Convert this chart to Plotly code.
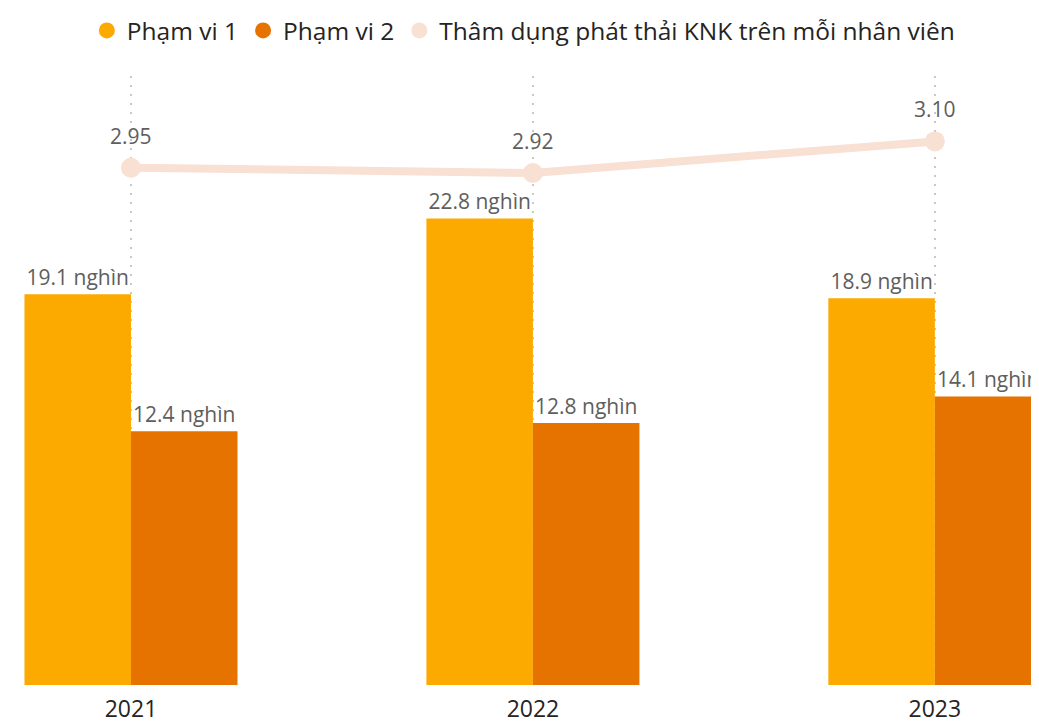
import plotly.graph_objects as go

years = ["2021", "2022", "2023"]
scope1 = [19.1, 22.8, 18.9]   # nghìn
scope2 = [12.4, 12.8, 14.1]   # nghìn
intensity = [2.95, 2.92, 3.10]

c_scope1 = "#FDAA00"
c_scope2 = "#E67300"
c_line = "#F8E0D3"
font_family = "Open Sans"
label_grey = "#605E5C"

fig = go.Figure()

fig.add_trace(go.Bar(
    x=years, y=scope1, name="Phạm vi 1", marker_color=c_scope1, marker_line_width=0,
    texttemplate="%{y:.1f} nghìn", textposition="outside", cliponaxis=False,
    textfont=dict(size=21, color=label_grey, family=font_family),
    showlegend=False))
fig.add_trace(go.Bar(
    x=years, y=scope2, name="Phạm vi 2", marker_color=c_scope2, marker_line_width=0,
    texttemplate="%{y:.1f} nghìn", textposition="outside", cliponaxis=False,
    textfont=dict(size=21, color=label_grey, family=font_family),
    showlegend=False))
fig.add_trace(go.Scatter(
    x=years, y=intensity, yaxis="y2", mode="lines+markers",
    line=dict(color=c_line, width=8), marker=dict(color=c_line, size=20),
    showlegend=False, cliponaxis=False))

# value labels above the line points (category index, since "2021" would be read as a number)
for i, v in enumerate(intensity):
    fig.add_annotation(x=i, y=v, xref="x", yref="y2", text=f"{v:.2f}", showarrow=False,
                       yshift=32, font=dict(size=21, color=label_grey, family=font_family))

# legend entries with round markers
for name, col in [("Phạm vi 1", c_scope1), ("Phạm vi 2", c_scope2),
                  ("Thâm dụng phát thải KNK trên mỗi nhân viên", c_line)]:
    fig.add_trace(go.Scatter(x=[None], y=[None], mode="markers", name=name,
                             marker=dict(color=col, size=17, symbol="circle")))

fig.update_layout(
    width=1039, height=716,
    margin=dict(l=0, r=0, t=67, b=36),
    plot_bgcolor="white", paper_bgcolor="white",
    barmode="group", bargap=0.47, bargroupgap=0,
    font=dict(family=font_family, color="#252423"),
    legend=dict(orientation="h", x=0.496, xanchor="center", y=1.112, yanchor="top",
                font=dict(size=24.5, color="#252423"), itemwidth=30),
    xaxis=dict(type="category", range=[-0.306, 2.279], showgrid=True,
               gridcolor="#C8C8C8", griddash="2px,7px", gridwidth=1.5,
               showline=False, zeroline=False, ticks="", ticklabelstandoff=8,
               tickfont=dict(size=23, color="#252423")),
    yaxis=dict(range=[0, 29.76], visible=False),
    yaxis2=dict(range=[0, 3.473], overlaying="y", visible=False),
)

fig.write_html("out.html")
